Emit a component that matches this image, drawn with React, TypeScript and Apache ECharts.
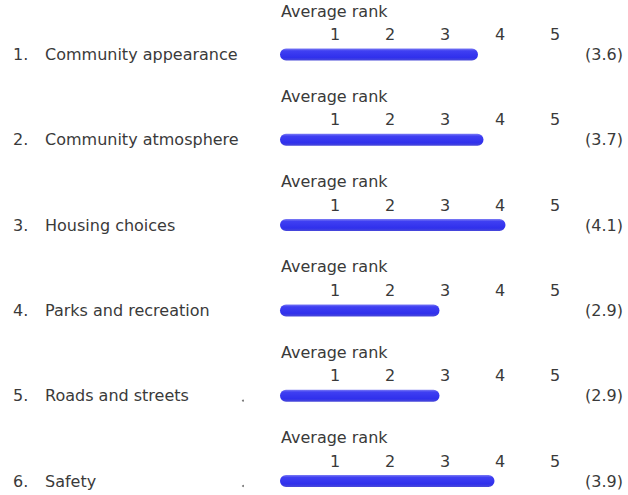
import React, { useEffect, useRef } from "react";
import * as echarts from "echarts";

const categories = [
  "Community appearance",
  "Community atmosphere",
  "Housing choices",
  "Parks and recreation",
  "Roads and streets",
  "Safety",
];
const averageRanks = [3.6, 3.7, 4.1, 2.9, 2.9, 3.9];
const rankTicks = [1, 2, 3, 4, 5];
const axisTitle = "Average rank";
const strayDotRows = [4, 5];

const FONT = "DejaVu Sans";
const TEXT = "#3a3a3a";
const ROW_STEP = 85.3;
const BAR_CENTER0 = 54.5;
const BAR_H = 12;
const GRID_LEFT = 280;
const GRID_W = 275;

export default function App() {
  const ref = useRef<HTMLDivElement>(null);

  useEffect(() => {
    document.body.style.margin = "0";
    if (!ref.current) return;
    const chart = echarts.init(ref.current, undefined, { renderer: "svg" });

    const grids: any[] = [];
    const xAxes: any[] = [];
    const yAxes: any[] = [];
    const series: any[] = [];
    const graphics: any[] = [];

    categories.forEach((name, i) => {
      const center = BAR_CENTER0 + i * ROW_STEP;
      grids.push({
        left: GRID_LEFT,
        width: GRID_W,
        top: center - 6,
        height: 12,
        containLabel: false,
      });
      xAxes.push({
        gridIndex: i,
        type: "value",
        min: 0,
        max: 5,
        interval: 1,
        position: "top",
        axisLine: { show: false },
        axisTick: { show: false },
        splitLine: { show: false },
        axisLabel: {
          show: true,
          margin: 6,
          color: TEXT,
          fontSize: 16,
          fontFamily: FONT,
          formatter: (v: number) => (rankTicks.includes(v) ? String(v) : ""),
        },
      });
      yAxes.push({
        gridIndex: i,
        type: "category",
        data: [name],
        position: "left",
        axisLine: { show: false },
        axisTick: { show: false },
        splitLine: { show: false },
        axisLabel: {
          align: "left",
          margin: GRID_LEFT - 13,
          color: TEXT,
          fontSize: 16,
          fontFamily: FONT,
          formatter: (v: string) => `{n|${i + 1}.}{t|${v}}`,
          rich: {
            n: { width: 32, color: TEXT, fontSize: 16, fontFamily: FONT },
            t: { color: TEXT, fontSize: 16, fontFamily: FONT },
          },
        },
      });
      yAxes.push({
        gridIndex: i,
        type: "category",
        data: [`(${averageRanks[i].toFixed(1)})`],
        position: "right",
        axisLine: { show: false },
        axisTick: { show: false },
        splitLine: { show: false },
        axisLabel: {
          align: "left",
          margin: 30,
          color: TEXT,
          fontSize: 16,
          fontFamily: FONT,
        },
      });
      series.push({
        type: "bar",
        xAxisIndex: i,
        yAxisIndex: i * 2,
        data: [averageRanks[i]],
        barWidth: BAR_H,
        itemStyle: {
          borderRadius: 6,
          color: new echarts.graphic.LinearGradient(0, 0, 0, 1, [
            { offset: 0, color: "#7c7cf4" },
            { offset: 0.2, color: "#3f3ff2" },
            { offset: 0.75, color: "#3030ec" },
            { offset: 1, color: "#4a4ad8" },
          ]),
        },
      });
      graphics.push({
        type: "text",
        left: 281,
        top: 3 + i * ROW_STEP,
        style: {
          text: axisTitle,
          fill: TEXT,
          fontSize: 16,
          fontFamily: FONT,
        },
      });
    });

    strayDotRows.forEach((r) => {
      graphics.push({
        type: "circle",
        shape: { cx: 243, cy: BAR_CENTER0 + r * ROW_STEP + 5, r: 1 },
        style: { fill: "#777" },
      });
    });

    chart.setOption({
      animation: false,
      backgroundColor: "#ffffff",
      grid: grids,
      xAxis: xAxes,
      yAxis: yAxes,
      series,
      graphic: graphics,
    });

    return () => chart.dispose();
  }, []);

  return <div ref={ref} style={{ width: 628, height: 495 }} />;
}
